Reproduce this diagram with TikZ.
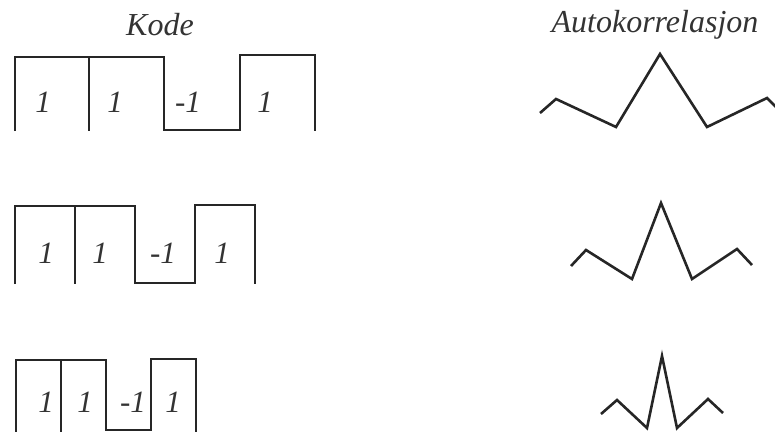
\documentclass[tikz,border=0pt]{standalone}
\usepackage{fontspec}
\setmainfont{Liberation Serif}
\begin{document}
\begin{tikzpicture}[x=1pt,y=-1pt,
  sig/.style={line width=2.6pt, color=black!85, line join=miter},
  lab/.style={font=\itshape\fontsize{31}{32}\selectfont, anchor=base, inner sep=0pt, text=black!80},
  ttl/.style={font=\itshape\fontsize{32}{33}\selectfont, anchor=base, inner sep=0pt, text=black!80}]
\useasboundingbox (0,0) rectangle (775,431);
\begin{scope}
\clip (0,0) rectangle (775,431);
% titles
\node[ttl] (kode) at (160,35) {Kode};
\node[ttl] (auto) at (655,32) {Autokorrelasjon};
% row 1 code
\draw[sig] (15,131) -- (15,57) -- (164,57) -- (164,130) -- (240,130) -- (240,55) -- (315,55) -- (315,131);
\draw[sig] (89,57) -- (89,131);
\node[lab] (a1) at (43,112) {1};
\node[lab] (a2) at (115,112) {1};
\node[lab] (a3) at (188,112) {-1};
\node[lab] (a4) at (265,112) {1};
% row 2 code
\draw[sig] (15,284) -- (15,206) -- (135,206) -- (135,283) -- (195,283) -- (195,205) -- (255,205) -- (255,284);
\draw[sig] (75,206) -- (75,284);
\node[lab] (b1) at (46,263) {1};
\node[lab] (b2) at (100,263) {1};
\node[lab] (b3) at (163,263) {-1};
\node[lab] (b4) at (222,263) {1};
% row 3 code
\draw[sig] (16,435) -- (16,360) -- (106,360) -- (106,430) -- (151,430) -- (151,359) -- (196,359) -- (196,435);
\draw[sig] (61,360) -- (61,435);
\node[lab] (c1) at (46,412) {1};
\node[lab] (c2) at (85,412) {1};
\node[lab] (c3) at (133,412) {-1};
\node[lab] (c4) at (173,412) {1};
% autocorrelations
\draw[sig] (540,113) -- (556,99) -- (616,127) -- (660,54) -- (707,127) -- (767,98) -- (782,113);
\draw[sig] (571,266) -- (586,250) -- (632,279) -- (661,203) -- (692,279) -- (737,249) -- (752,265);
\draw[sig] (601,414) -- (617,400) -- (647,428) -- (662,356) -- (677,428) -- (708,399) -- (723,413);
\end{scope}
\end{tikzpicture}
\end{document}
